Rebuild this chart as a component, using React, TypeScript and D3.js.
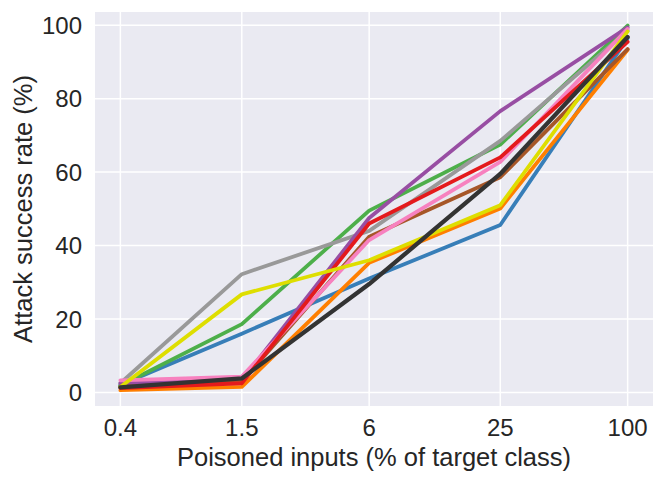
import React from "react";
import * as d3 from "d3";

// poisoned fraction (% of target class) and attack success rate (%)
const xValues = [0.4, 1.5, 6, 25, 100];
const xTickLabels = ["0.4", "1.5", "6", "25", "100"];
const yTicks = [0, 20, 40, 60, 80, 100];

const blue = [2.0, 16.0, 31.0, 45.6, 96.5];
const green = [1.8, 18.6, 49.5, 67.5, 99.9];
const gray = [2.5, 32.2, 44.0, 68.5, 98.5];
const purple = [2.5, 3.3, 47.5, 76.6, 99.4];
const orange = [0.6, 1.5, 35.3, 50.1, 93.3];
const brown = [1.5, 3.0, 42.4, 58.6, 93.5];
const pink = [3.3, 4.3, 41.5, 62.8, 99.0];
const red = [1.2, 2.5, 46.0, 64.0, 95.5];
const yellow = [1.5, 26.7, 36.0, 51.0, 98.3];
const black = [1.4, 3.8, 29.5, 59.5, 96.8];

// draw order: later series sit on top
const series = [
  { name: "blue", values: blue, color: "#377eb8" },
  { name: "green", values: green, color: "#4daf4a" },
  { name: "gray", values: gray, color: "#999999" },
  { name: "purple", values: purple, color: "#984ea3" },
  { name: "orange", values: orange, color: "#ff7f00" },
  { name: "brown", values: brown, color: "#a65628" },
  { name: "pink", values: pink, color: "#f781bf" },
  { name: "red", values: red, color: "#e41a1c" },
  { name: "yellow", values: yellow, color: "#dede00" },
  { name: "black", values: black, color: "#333333" },
];

const width = 665;
const height = 482;
const plot = { left: 95, right: 653, top: 12, bottom: 406 };
const font = "'Liberation Sans', Arial, sans-serif";
const textColor = "#262626";

export default function App() {
  // log x axis with matplotlib-like 5% margins in log space
  const pad = Math.pow(100 / 0.4, 0.05);
  const x = d3
    .scaleLog()
    .domain([0.4 / pad, 100 * pad])
    .range([plot.left, plot.right]);

  const y = d3.scaleLinear().domain([-3.7, 103.6]).range([plot.bottom, plot.top]);

  const line = d3
    .line<number>()
    .x((_, i) => x(xValues[i]))
    .y((d) => y(d));

  return (
    <svg
      width={width}
      height={height}
      style={{ position: "absolute", left: 0, top: 0, background: "#fff" }}
      fontFamily={font}
    >
      <rect
        x={plot.left}
        y={plot.top}
        width={plot.right - plot.left}
        height={plot.bottom - plot.top}
        fill="#eaeaf2"
      />

      {/* grid */}
      {yTicks.map((t) => (
        <line
          key={"gy" + t}
          x1={plot.left}
          x2={plot.right}
          y1={y(t)}
          y2={y(t)}
          stroke="#fff"
          strokeWidth={1.5}
        />
      ))}
      {xValues.map((v) => (
        <line
          key={"gx" + v}
          x1={x(v)}
          x2={x(v)}
          y1={plot.top}
          y2={plot.bottom}
          stroke="#fff"
          strokeWidth={1.5}
        />
      ))}

      {/* series */}
      {series.map((s) => (
        <path
          key={s.name}
          d={line(s.values) || ""}
          fill="none"
          stroke={s.color}
          strokeWidth={s.name === "black" ? 4.3 : 3.8}
          strokeLinejoin="round"
          strokeLinecap="round"
        />
      ))}

      {/* y tick labels */}
      {yTicks.map((t) => (
        <text
          key={"ty" + t}
          x={82}
          y={y(t)}
          dy="0.36em"
          textAnchor="end"
          fontSize={24}
          fill={textColor}
        >
          {t}
        </text>
      ))}

      {/* x tick labels */}
      {xValues.map((v, i) => (
        <text
          key={"tx" + v}
          x={x(v)}
          y={436}
          textAnchor="middle"
          fontSize={24}
          fill={textColor}
        >
          {xTickLabels[i]}
        </text>
      ))}

      <text
        x={(plot.left + plot.right) / 2}
        y={466}
        textAnchor="middle"
        fontSize={25.5}
        fill={textColor}
      >
        Poisoned inputs (% of target class)
      </text>

      <text
        transform={`translate(32, ${(plot.top + plot.bottom) / 2}) rotate(-90)`}
        textAnchor="middle"
        fontSize={25.5}
        fill={textColor}
      >
        Attack success rate (%)
      </text>
    </svg>
  );
}
